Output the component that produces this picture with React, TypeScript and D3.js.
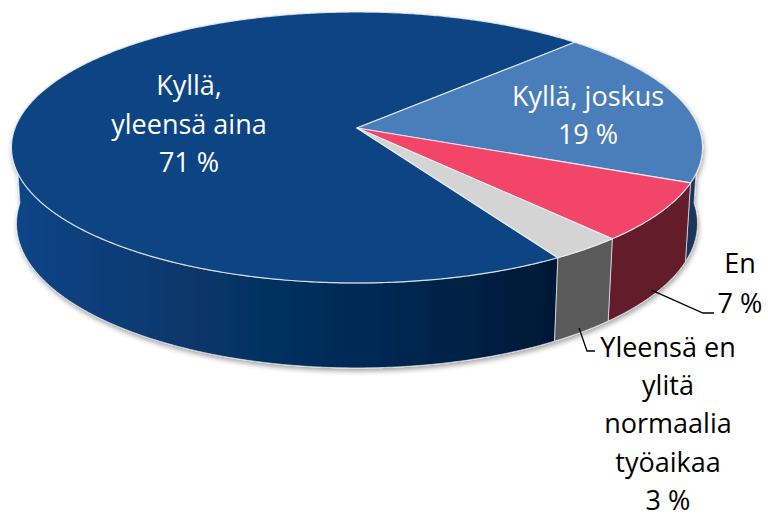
import React from 'react';
import * as d3 from 'd3';

// ---- data ----
const categories = ['Kyllä, yleensä aina', 'Kyllä, joskus', 'En', 'Yleensä en ylitä normaalia työaikaa'];
const values = [71, 19, 7, 3];
const labelLines = [
  ['Kyllä,', 'yleensä aina', '71 %'],
  ['Kyllä, joskus', '19 %'],
  ['En', '7 %'],
  ['Yleensä en', 'ylitä', 'normaalia', 'työaikaa', '3 %'],
];
const topColors = ['#0B4584', '#4A7EBB', '#F34567', '#D4D4D4'];
const sideColors = ['url(#sideBlue)', '#1C3659', '#621B2C', '#5A5A5A'];
const labelColors = ['#FFFFFF', '#FFFFFF', '#000000', '#000000'];

// ---- layout / projection ----
const W = 768, H = 520;
const cx = 357, cy = 128;
const F = 2192, Dd = 6.41;
const alpha = (22.83 * Math.PI) / 180;
const sa = Math.sin(alpha), ca = Math.cos(alpha);
const depth = 0.242;
const startDeg = 149;
const fontFamily = "'Open Sans', 'Noto Sans', sans-serif";
const fontSize = 27;

const labelPos = [
  { x: 189, y: 95, lh: 38.5 },
  { x: 588, y: 106, lh: 38 },
  { x: 740, y: 273, lh: 39.5 },
  { x: 668, y: 357, lh: 38.2 },
];
const leaders: (null | { elbow: [number, number]; end: [number, number]; r: number })[] = [
  null,
  null,
  { elbow: [703, 313], end: [714, 313], r: 0.985 },
  { elbow: [587, 351], end: [595, 351], r: 0.985 },
];

function proj(theta: number, r: number, yw: number): [number, number] {
  const X = r * Math.sin(theta);
  const Z = r * Math.cos(theta);
  const yc = yw * ca + Z * sa;
  const zc = Dd + Z * ca - yw * sa;
  return [cx + (F * X) / zc, cy - (F * yc) / zc];
}

function rim(a0: number, a1: number, yw: number): [number, number][] {
  const n = Math.max(2, Math.ceil(Math.abs(a1 - a0) / (Math.PI / 360)));
  return d3.range(n + 1).map((i) => proj(a0 + ((a1 - a0) * i) / n, 1, yw));
}

const line = d3.line();

function topPath(a0: number, a1: number) {
  const pts: [number, number][] = [proj(0, 0, 0), ...rim(a0, a1, 0)];
  return line(pts) + 'Z';
}

function wallPath(a0: number, a1: number) {
  const pts = [...rim(a0, a1, 0), ...rim(a1, a0, -depth)];
  return line(pts) + 'Z';
}

function splitWall(a0: number, a1: number) {
  const breaks: number[] = [a0];
  const k0 = Math.ceil((a0 - Math.PI / 2) / Math.PI);
  for (let k = k0; ; k++) {
    const b = Math.PI / 2 + k * Math.PI;
    if (b >= a1) break;
    if (b > a0) breaks.push(b);
  }
  breaks.push(a1);
  const segs: { a0: number; a1: number; front: boolean }[] = [];
  for (let i = 0; i < breaks.length - 1; i++) {
    const m = (breaks[i] + breaks[i + 1]) / 2;
    segs.push({ a0: breaks[i], a1: breaks[i + 1], front: Math.cos(m) < 0 });
  }
  return segs;
}

export default function App() {
  const start = (startDeg * Math.PI) / 180;
  const arcs = d3
    .pie<number>()
    .sort(null)
    .value((d) => d)
    .startAngle(start)
    .endAngle(start + 2 * Math.PI)(values);

  const walls: { d: string; fill: string; front: boolean; key: string }[] = [];
  arcs.forEach((a, i) => {
    splitWall(a.startAngle, a.endAngle).forEach((s, j) => {
      walls.push({ d: wallPath(s.a0, s.a1), fill: sideColors[i], front: s.front, key: `w${i}-${j}` });
    });
  });
  const backWalls = walls.filter((w) => !w.front);
  const frontWalls = walls.filter((w) => w.front);
  const edge = 'rgba(235,240,248,0.85)';

  return (
    <svg width={W} height={H} style={{ display: 'block', position: 'absolute', left: 0, top: 0 }}>
      <defs>
        <linearGradient id="sideBlue" gradientUnits="userSpaceOnUse" x1={10} y1={0} x2={550} y2={0}>
          <stop offset="0" stopColor="#0C4588" />
          <stop offset="0.35" stopColor="#073669" />
          <stop offset="0.7" stopColor="#042852" />
          <stop offset="1" stopColor="#011936" />
        </linearGradient>
        <filter id="shadow" x="-10%" y="-10%" width="120%" height="130%">
          <feDropShadow dx="1" dy="3" stdDeviation="2.5" floodColor="#000" floodOpacity="0.35" />
        </filter>
      </defs>
      <rect width={W} height={H} fill="#FFFFFF" />
      <g filter="url(#shadow)">
        {backWalls.map((w) => (
          <path key={w.key} d={w.d} fill={w.fill} stroke={edge} strokeWidth={0.8} strokeLinejoin="round" />
        ))}
        {frontWalls.map((w) => (
          <path key={w.key} d={w.d} fill={w.fill} stroke={edge} strokeWidth={0.8} strokeLinejoin="round" />
        ))}
        {arcs.map((a, i) => (
          <path
            key={`t${i}`}
            d={topPath(a.startAngle, a.endAngle)}
            fill={topColors[i]}
            stroke={edge}
            strokeWidth={1.2}
            strokeLinejoin="round"
          />
        ))}
      </g>
      {arcs.map((a, i) => {
        const L = leaders[i];
        if (!L) return null;
        const mid = (a.startAngle + a.endAngle) / 2;
        const p0 = proj(mid, L.r, -depth * 0.98);
        return (
          <path
            key={`l${i}`}
            d={line([p0, L.elbow, L.end]) || ''}
            fill="none"
            stroke="#000"
            strokeWidth={1.3}
          />
        );
      })}
      {labelLines.map((lines, i) => (
        <text
          key={`lab${i}`}
          x={labelPos[i].x}
          y={labelPos[i].y}
          fill={labelColors[i]}
          fontFamily={fontFamily}
          fontSize={fontSize}
          textAnchor="middle"
          aria-label={categories[i]}
        >
          {lines.map((t, k) => (
            <tspan key={k} x={labelPos[i].x} y={labelPos[i].y + k * labelPos[i].lh}>
              {t}
            </tspan>
          ))}
        </text>
      ))}
    </svg>
  );
}
